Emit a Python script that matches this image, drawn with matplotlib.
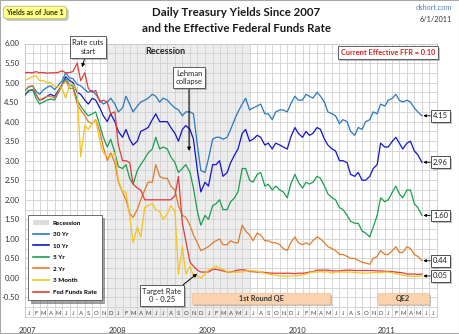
import matplotlib
matplotlib.use('Agg')
import matplotlib.pyplot as plt
import matplotlib.dates as mdates
import matplotlib.patheffects as pe
from matplotlib.patches import Rectangle, Patch
from matplotlib.lines import Line2D
from matplotlib.transforms import blended_transform_factory
import pandas as pd
import numpy as np

plt.rcParams['font.family'] = ['Lato', 'DejaVu Sans']

# ---------------- data (semi-monthly readings: 1st and 15th) ----------------
dates = pd.date_range('2007-01-01', '2011-06-01', freq='SMS')

yr30 = [4.80, 4.88, 4.92, 4.78, 4.70, 4.80, 4.88, 4.92, 4.82, 4.92, 5.05, 5.25, 5.12, 5.10, 4.95, 4.92, 4.82, 4.75, 4.80, 4.70, 4.55, 4.45, 4.50, 4.60,
        4.45, 4.25, 4.35, 4.65, 4.45, 4.25, 4.40, 4.50, 4.55, 4.60, 4.70, 4.65, 4.50, 4.60, 4.55, 4.45, 4.35, 4.30, 4.15, 4.25, 4.25, 4.20, 3.40, 2.75,
        2.70, 3.05, 3.55, 3.60, 3.60, 3.55, 3.60, 3.80, 4.05, 4.25, 4.45, 4.60, 4.30, 4.35, 4.40, 4.45, 4.20, 4.20, 4.05, 4.25, 4.30, 4.30, 4.25, 4.45,
        4.65, 4.55, 4.55, 4.70, 4.65, 4.60, 4.75, 4.65, 4.50, 4.25, 4.20, 4.15, 3.95, 4.05, 4.00, 3.75, 3.65, 3.85, 3.80, 4.00, 4.05, 4.25, 4.20, 4.45,
        4.40, 4.55, 4.60, 4.70, 4.55, 4.50, 4.55, 4.50, 4.35, 4.25, 4.15]

yr10 = [4.68, 4.78, 4.82, 4.70, 4.55, 4.58, 4.65, 4.70, 4.65, 4.78, 4.95, 5.15, 5.05, 5.00, 4.75, 4.70, 4.55, 4.45, 4.60, 4.55, 4.35, 4.15, 4.00, 4.20,
        4.00, 3.75, 3.60, 3.80, 3.55, 3.40, 3.50, 3.75, 3.80, 3.85, 4.05, 4.20, 4.00, 4.00, 4.00, 3.85, 3.70, 3.50, 3.80, 3.90, 3.80, 3.55, 2.75, 2.20,
        2.45, 2.35, 2.90, 2.90, 3.00, 2.60, 2.70, 2.95, 3.15, 3.30, 3.70, 3.80, 3.50, 3.55, 3.65, 3.60, 3.40, 3.45, 3.30, 3.45, 3.40, 3.35, 3.30, 3.60,
        3.85, 3.70, 3.60, 3.75, 3.65, 3.70, 3.85, 3.80, 3.55, 3.40, 3.30, 3.25, 3.00, 3.00, 2.95, 2.65, 2.60, 2.70, 2.50, 2.50, 2.60, 2.80, 2.90, 3.45,
        3.35, 3.35, 3.50, 3.60, 3.45, 3.30, 3.45, 3.50, 3.25, 3.15, 2.96]

yr5 = [4.70, 4.80, 4.82, 4.60, 4.45, 4.50, 4.55, 4.58, 4.55, 4.72, 4.95, 5.10, 4.95, 4.90, 4.55, 4.40, 4.25, 4.15, 4.20, 4.25, 3.90, 3.60, 3.35, 3.55,
       3.20, 2.85, 2.80, 2.90, 2.55, 2.40, 2.75, 2.90, 3.05, 3.20, 3.30, 3.60, 3.30, 3.35, 3.30, 3.10, 2.95, 2.70, 2.80, 2.90, 2.70, 2.30, 1.70, 1.35,
       1.60, 1.50, 1.85, 1.90, 2.00, 1.75, 1.75, 1.95, 2.05, 2.20, 2.80, 2.80, 2.50, 2.45, 2.65, 2.70, 2.35, 2.40, 2.25, 2.35, 2.25, 2.20, 2.05, 2.40,
       2.65, 2.45, 2.30, 2.45, 2.40, 2.45, 2.60, 2.55, 2.35, 2.15, 2.05, 2.00, 1.80, 1.75, 1.60, 1.45, 1.40, 1.40, 1.20, 1.15, 1.05, 1.30, 1.60, 2.05,
       1.95, 2.00, 2.20, 2.35, 2.15, 2.05, 2.25, 2.25, 1.90, 1.80, 1.60]

yr2 = [4.80, 4.90, 4.92, 4.70, 4.55, 4.60, 4.65, 4.65, 4.60, 4.75, 4.95, 5.05, 4.85, 4.85, 4.45, 4.30, 4.15, 4.00, 3.95, 4.05, 3.75, 3.35, 3.00, 3.20,
       2.95, 2.45, 2.20, 2.00, 1.65, 1.55, 1.75, 2.00, 2.25, 2.45, 2.45, 2.90, 2.60, 2.55, 2.55, 2.35, 2.25, 1.85, 1.60, 1.55, 1.35, 1.10, 0.90, 0.70,
       0.75, 0.80, 0.90, 0.95, 1.00, 0.85, 0.85, 0.95, 0.90, 0.90, 1.35, 1.20, 1.10, 0.95, 1.15, 1.10, 0.95, 0.95, 0.90, 0.90, 0.85, 0.75, 0.70, 0.90,
       1.05, 0.90, 0.85, 0.90, 0.85, 0.95, 1.05, 1.00, 0.90, 0.80, 0.75, 0.70, 0.60, 0.60, 0.55, 0.50, 0.50, 0.45, 0.40, 0.38, 0.35, 0.50, 0.55, 0.70,
       0.60, 0.60, 0.70, 0.80, 0.65, 0.65, 0.80, 0.75, 0.60, 0.55, 0.44]

mo3 = [5.05, 5.10, 5.15, 5.18, 5.05, 5.05, 5.00, 5.00, 4.90, 4.90, 4.85, 4.60, 4.95, 4.95, 4.80, 3.10, 3.90, 3.80, 3.95, 4.05, 3.50, 3.20, 3.10, 3.10,
       3.20, 2.50, 2.20, 2.20, 1.60, 0.90, 1.30, 1.05, 1.80, 1.85, 1.90, 1.75, 1.70, 1.50, 1.65, 1.85, 1.70, 0.10, 0.80, 0.10, 0.30, 0.05, 0.05, 0.00,
       0.10, 0.20, 0.25, 0.30, 0.25, 0.22, 0.15, 0.15, 0.15, 0.15, 0.15, 0.18, 0.18, 0.18, 0.17, 0.15, 0.12, 0.10, 0.08, 0.07, 0.05, 0.05, 0.04, 0.05,
       0.05, 0.06, 0.08, 0.10, 0.13, 0.15, 0.15, 0.16, 0.15, 0.16, 0.12, 0.15, 0.15, 0.15, 0.15, 0.15, 0.14, 0.13, 0.13, 0.12, 0.13, 0.14, 0.14, 0.13,
       0.15, 0.15, 0.13, 0.11, 0.09, 0.07, 0.05, 0.05, 0.04, 0.04, 0.05]

ffr = [5.25, 5.26, 5.25, 5.28, 5.25, 5.26, 5.24, 5.25, 5.25, 5.26, 5.30, 5.25, 5.26, 5.28, 5.50, 5.05, 5.25, 4.85, 4.75, 4.80, 4.50, 4.55, 4.50, 4.20,
       4.25, 3.40, 3.00, 3.00, 2.95, 2.40, 2.30, 2.25, 2.00, 2.00, 2.00, 2.00, 2.00, 2.00, 2.00, 2.00, 2.10, 2.60, 1.40, 0.95, 0.40, 0.30, 0.20, 0.15,
       0.15, 0.15, 0.22, 0.22, 0.20, 0.18, 0.15, 0.15, 0.18, 0.20, 0.21, 0.20, 0.16, 0.16, 0.15, 0.15, 0.14, 0.13, 0.12, 0.12, 0.12, 0.12, 0.12, 0.12,
       0.11, 0.12, 0.12, 0.13, 0.15, 0.16, 0.20, 0.20, 0.20, 0.20, 0.18, 0.18, 0.18, 0.19, 0.20, 0.20, 0.19, 0.19, 0.19, 0.19, 0.19, 0.19, 0.18, 0.18,
       0.17, 0.17, 0.16, 0.15, 0.14, 0.13, 0.10, 0.10, 0.10, 0.09, 0.10]

series_names = ['30 Yr', '10 Yr', '5 Yr', '2 Yr', '3 Month', 'Fed Funds Rate']
series_vals = [yr30, yr10, yr5, yr2, mo3, ffr]
series_cols = ['#2878c0', '#1414c8', '#1a9e52', '#e47a28', '#f7c21a', '#e03c3c']
end_labels = ['4.15', '2.96', '1.60', '0.44', '0.05']
month_letters = ['J', 'F', 'M', 'A', 'M', 'J', 'J', 'A', 'S', 'O', 'N', 'D']
years = ['2007', '2008', '2009', '2010', '2011']

# ---------------- figure ----------------
W, H = 460, 334
fig = plt.figure(figsize=(W / 100, H / 100), dpi=100)
fig.patch.set_facecolor('white')


def fx(px):
    return px / W


def fy(py):
    return 1 - py / H


ax = fig.add_axes([fx(25), fy(317), (437 - 25) / W, (317 - 43.5) / H])
x0, x1 = pd.Timestamp('2007-01-01'), pd.Timestamp('2011-08-01')
ax.set_xlim(x0, x1)
ax.set_ylim(-1.0, 6.0)

# recession shading
ax.axvspan(pd.Timestamp('2007-12-01'), pd.Timestamp('2009-07-01'), color='#ececec', zorder=0, lw=0)

# grid
month_starts = pd.date_range(x0, x1, freq='MS')
ax.set_xticks(month_starts, minor=True)
ax.set_xticks([])
ax.set_yticks(np.arange(-0.5, 6.01, 0.5))
ax.set_yticks(np.arange(-1.0, 6.01, 0.25), minor=True)
ax.yaxis.set_major_formatter(matplotlib.ticker.FuncFormatter(lambda v, p: f'{v:.2f}'))
ax.grid(which='both', color='#d0d0d0', lw=0.6, zorder=0.5)
ax.set_axisbelow(True)
ax.tick_params(which='both', length=0)
ax.tick_params(axis='y', labelsize=5.5, labelcolor='#333333', pad=4)
for s in ax.spines.values():
    s.set_color('#c8c8c8')
    s.set_linewidth(0.6)

# lines
zorders = [3, 3.1, 3.2, 3.3, 3.5, 3.4]
for name, vals, col, z in zip(series_names, series_vals, series_cols, zorders):
    ax.plot(dates, vals, color=col, lw=0.9, zorder=z, label=name)

# month letters and years
for i, m in enumerate(month_starts[:-1]):
    ax.text(m + pd.Timedelta(days=15), -0.9, month_letters[m.month - 1], ha='center', va='center',
            fontsize=4.3, color='#444444', zorder=5)
trans = blended_transform_factory(ax.transData, ax.transAxes)
for y in years:
    ax.text(pd.Timestamp(f'{y}-01-10'), -0.035, y, transform=trans, ha='center', va='top',
            fontsize=5.5, color='#333333')

shadow = [pe.withSimplePatchShadow(offset=(1.5, -1.5), shadow_rgbFace='#888888', alpha=0.5)]

# end-of-line value labels
for vals, lab in zip(series_vals[:5], end_labels):
    a = ax.annotate(lab, xy=(dates[-1], vals[-1]), xytext=(11, 0), textcoords='offset pixels',
                    ha='left', va='center', fontsize=5.5, color='#222222', annotation_clip=False,
                    bbox=dict(boxstyle='square,pad=0.3', fc='white', ec='#333333', lw=0.6),
                    arrowprops=dict(arrowstyle='-|>', color='black', lw=0.6, mutation_scale=4,
                                    shrinkA=0, shrinkB=1), zorder=6)
    a.get_bbox_patch().set_path_effects(shadow)


def date_at(px):
    months = (px - 25) / ((437 - 25) / 55)
    return x0 + pd.Timedelta(days=months * 30.44)


def val_at(py):
    return (277.3 - py) / 39.2


# callouts
t = ax.annotate('Rate cuts\nstart', xy=(date_at(82), val_at(66)), xytext=(fx(88), fy(47)),
                textcoords='figure fraction', ha='center', va='center', fontsize=5.5, color='#222222',
                linespacing=1.3,
                bbox=dict(boxstyle='square,pad=0.35', fc='white', ec='#444444', lw=0.6),
                arrowprops=dict(arrowstyle='-|>', color='black', lw=0.7, mutation_scale=5, shrinkA=0, shrinkB=0),
                zorder=7)
t.get_bbox_patch().set_path_effects(shadow)

t = ax.annotate('Lehman\ncollapse', xy=(date_at(189), val_at(150)), xytext=(fx(189), fy(77.5)),
                textcoords='figure fraction', ha='center', va='center', fontsize=5.5, color='#222222',
                linespacing=1.3,
                bbox=dict(boxstyle='square,pad=0.35', fc='white', ec='#444444', lw=0.6),
                arrowprops=dict(arrowstyle='-|>', color='black', lw=0.8, mutation_scale=5, shrinkA=0, shrinkB=0),
                zorder=7)
t.get_bbox_patch().set_path_effects(shadow)

t = ax.annotate('Target Rate\n0 - 0.25', xy=(date_at(197), val_at(273)), xytext=(fx(162), fy(295.5)),
                textcoords='figure fraction', ha='center', va='center', fontsize=5.5, color='#222222',
                linespacing=1.3,
                bbox=dict(boxstyle='square,pad=0.35', fc='white', ec='#444444', lw=0.6),
                arrowprops=dict(arrowstyle='-|>', color='black', lw=0.7, mutation_scale=5, shrinkA=0, shrinkB=0,
                                relpos=(0.95, 1.0)),
                zorder=7)
t.get_bbox_patch().set_path_effects(shadow)

fig.text(fx(165), fy(51), 'Recession', ha='center', va='center', fontsize=6.5, fontweight='bold', color='#222222')

t = fig.text(fx(388), fy(52.5), 'Current Effective FFR = 0.10', ha='center', va='center', fontsize=5.3,
             fontweight='bold', color='#d42020',
             bbox=dict(boxstyle='square,pad=0.4', fc='white', ec='#444444', lw=0.6), zorder=8)
t.get_bbox_patch().set_path_effects(shadow)

# QE bars
for left, right, lab in [(192, 330, '1st Round QE'), (377, 429, 'QE2')]:
    d0, d1 = date_at(left), date_at(right)
    r = Rectangle((mdates.date2num(d0), val_at(303)), mdates.date2num(d1) - mdates.date2num(d0),
                  val_at(292) - val_at(303), fc='#fbd2ae', ec='#f2bf96', lw=0.5, zorder=6)
    r.set_path_effects(shadow)
    ax.add_patch(r)
    ax.text(d0 + (d1 - d0) / 2, val_at(297.5), lab, ha='center', va='center', fontsize=5.2,
            fontweight='bold', color='#333333', zorder=7)

# legend
handles = [Patch(fc='#dcdcdc', ec='none')] + [Line2D([0], [0], color=c, lw=1.2) for c in series_cols]
leg = ax.legend(handles, ['Recession'] + series_names, loc='upper left', bbox_to_anchor=(0.008, 0.373),
                borderaxespad=0, prop={'weight': 'bold', 'size': 4.6}, frameon=True, fancybox=False,
                edgecolor='#555555', handlelength=2.4, labelspacing=0.95, borderpad=0.8, handletextpad=0.6,
                shadow=True)
leg.get_frame().set_linewidth(0.6)
leg.set_zorder(9)

# titles and top texts
fig.text(fx(236), fy(13), 'Daily Treasury Yields Since 2007', ha='center', va='center', fontsize=8.3,
         fontweight='bold', color='#1a1a1a')
fig.text(fx(236), fy(29), 'and the Effective Federal Funds Rate', ha='center', va='center', fontsize=8.3,
         fontweight='bold', color='#1a1a1a')
fig.text(fx(452), fy(8), 'dshort.com', ha='right', va='center', fontsize=5.3, color='#4f7fb5')
fig.text(fx(452), fy(19), '6/1/2011', ha='right', va='center', fontsize=5.3, color='#333333')
t = fig.text(fx(35), fy(12.5), 'Yields as of June 1', ha='center', va='center', fontsize=5.0, fontweight='bold',
             color='#333300', bbox=dict(boxstyle='round,pad=0.4,rounding_size=0.5', fc='#ffff8c', ec='#b8b878', lw=0.6))
t.get_bbox_patch().set_path_effects(shadow)

# outer frame
fig.patches.append(Rectangle((0, 0), 1, 1, transform=fig.transFigure, fill=False, ec='#a8a8a8', lw=1.5))

fig.savefig('out.png', dpi=100)
